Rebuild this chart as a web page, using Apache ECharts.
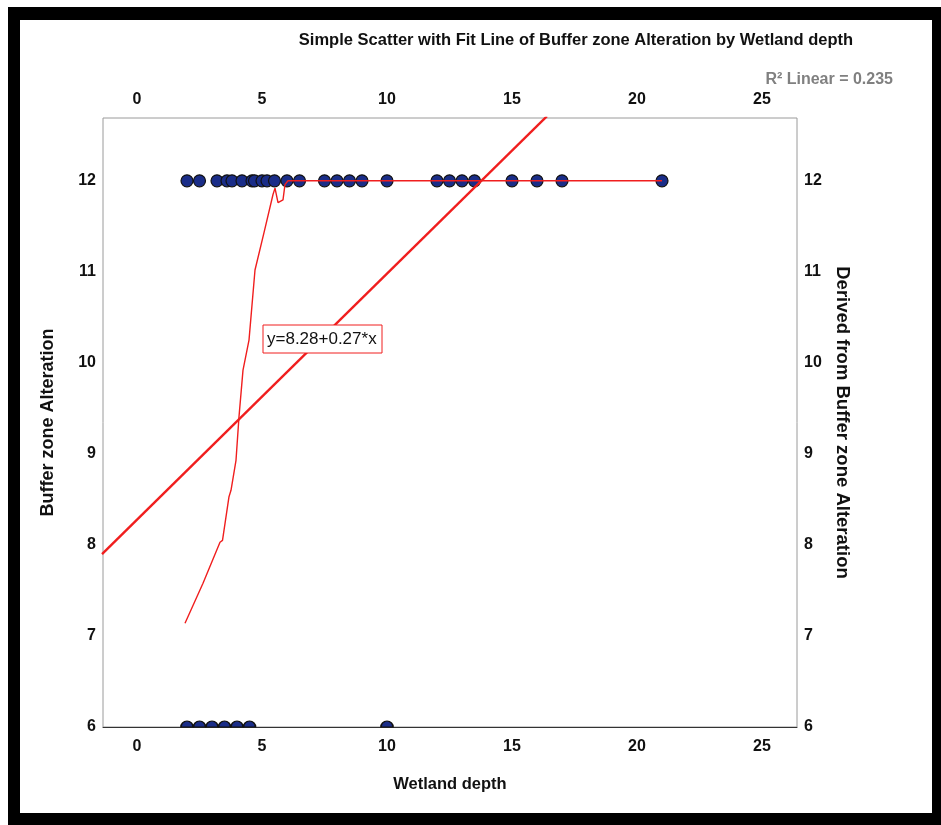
<!DOCTYPE html>
<html>
<head>
<meta charset="utf-8">
<title>Buffer zone Alteration by Wetland depth</title>
<script src="https://cdn.jsdelivr.net/npm/echarts@6/dist/echarts.min.js"></script>
<style>
  html, body { margin: 0; padding: 0; background: #fff; }
  #chart { width: 941px; height: 825px; }
</style>
</head>
<body>
<div id="chart"></div>
<script>
// observed points, wetland depth for each alteration level
const depthAt12 = [2.0, 2.5, 3.2, 3.6, 3.8, 4.2, 4.6, 4.7, 5.0, 5.2, 5.5, 6.0, 6.5, 7.5, 8.0, 8.5, 9.0, 10, 12, 12.5, 13, 13.5, 15, 16, 17, 21]
const depthAt6 = [2.0, 2.5, 3.0, 3.5, 4.0, 4.5, 10]

// smoothed curve
const curveX = [1.92, 2.64, 3.32, 3.42, 3.68, 3.76, 3.96, 4.08, 4.24, 4.48, 4.72, 5.08, 5.44, 5.52, 5.64, 5.84, 5.92, 6.04, 21]
const curveY = [7.14, 7.58, 8.03, 8.05, 8.53, 8.60, 8.93, 9.41, 9.92, 10.25, 11.02, 11.43, 11.85, 11.92, 11.76, 11.79, 11.96, 12.0, 12.0]

// fit line end points
const fitX = [-1.4, 16.4]
const fitY = [7.9, 12.71]

const xTicks = [0, 5, 10, 15, 20, 25]
const yTicks = [6, 7, 8, 9, 10, 11, 12]

const chart = echarts.init(document.getElementById('chart'))

const font = '"Liberation Sans", Arial, sans-serif'
const red = '#f01e1e'
const dot = {
  color: '#1a2d88',
  borderColor: '#111',
  borderWidth: 1.2,
  opacity: 1
}

const tickLabel = {
  color: '#111',
  fontWeight: 'bold',
  fontSize: 16,
  fontFamily: font
}

const xAxisBase = {
  type: 'value',
  min: -1.36,
  max: 26.4,
  splitLine: { show: false },
  axisTick: { show: false },
  axisLabel: { ...tickLabel, customValues: xTicks }
}

const yAxisBase = {
  type: 'value',
  min: 6,
  max: 12.69,
  splitLine: { show: false },
  axisTick: { show: false },
  axisLine: { show: false },
  nameLocation: 'middle',
  nameTextStyle: {
    color: '#111',
    fontWeight: 'bold',
    fontSize: 18,
    fontFamily: font
  },
  axisLabel: { ...tickLabel, customValues: yTicks, margin: 7 }
}

const option = {
  animation: false,
  backgroundColor: '#fff',
  title: {
    text: 'Simple Scatter with Fit Line of Buffer zone Alteration by Wetland depth',
    left: 571,
    top: 27,
    textAlign: 'center',
    textStyle: {
      color: '#111',
      fontWeight: 'bold',
      fontSize: 16.5,
      fontFamily: font
    }
  },
  grid: {
    left: 103,
    right: 144,
    top: 118,
    bottom: 98,
    show: true,
    borderColor: '#9a9a9a',
    borderWidth: 1,
    containLabel: false,
    outerBoundsMode: 'none'
  },
  xAxis: [
    {
      ...xAxisBase,
      position: 'bottom',
      axisLine: { show: true, onZero: false, lineStyle: { color: '#333', width: 1 } },
      axisLabel: { ...xAxisBase.axisLabel, margin: 12 },
      name: 'Wetland depth',
      nameLocation: 'middle',
      nameGap: 49,
      nameTextStyle: {
        color: '#111',
        fontWeight: 'bold',
        fontSize: 16.5,
        fontFamily: font
      }
    },
    {
      ...xAxisBase,
      position: 'top',
      axisLine: { show: false },
      axisLabel: { ...xAxisBase.axisLabel, margin: 10 }
    }
  ],
  yAxis: [
    {
      ...yAxisBase,
      position: 'left',
      name: 'Buffer zone Alteration',
      nameGap: 46
    },
    {
      ...yAxisBase,
      position: 'right',
      name: 'Derived from Buffer zone Alteration',
      nameGap: 31,
      nameRotate: -90,
      nameTextStyle: { ...yAxisBase.nameTextStyle, fontSize: 18.5 }
    }
  ],
  series: [
    {
      type: 'scatter',
      symbol: 'circle',
      symbolSize: 12,
      itemStyle: dot,
      data: depthAt12.map(x => [x, 12]),
      z: 2
    },
    {
      type: 'scatter',
      // lower half is cut off by the axis in the original
      symbol: 'path://M0,10 A10,10 0 0 1 20,10 Z',
      symbolSize: [12, 6],
      symbolOffset: [0, -3],
      itemStyle: dot,
      data: depthAt6.map(x => [x, 6]),
      z: 2
    },
    {
      type: 'line',
      data: curveX.map((x, i) => [x, curveY[i]]),
      showSymbol: false,
      symbol: 'none',
      lineStyle: { color: red, width: 1.4 },
      z: 3
    },
    {
      type: 'line',
      data: fitX.map((x, i) => [x, fitY[i]]),
      showSymbol: false,
      symbol: 'none',
      clip: true,
      lineStyle: { color: red, width: 2.4 },
      z: 3
    }
  ],
  graphic: [
    // picture frame
    { type: 'rect', z: -10, shape: { x: 8, y: 7, width: 933, height: 818 }, style: { fill: '#000' } },
    { type: 'rect', z: -9, shape: { x: 20, y: 20, width: 912, height: 793 }, style: { fill: '#fff' } },
    {
      type: 'text',
      z: 100,
      x: 893,
      y: 80,
      style: {
        text: 'R² Linear = 0.235',
        fill: '#808080',
        font: 'bold 16px ' + font,
        align: 'right',
        verticalAlign: 'middle'
      }
    },
    {
      type: 'rect',
      z: 100,
      shape: { x: 263, y: 325, width: 119, height: 28 },
      style: { fill: '#fff', stroke: red, lineWidth: 1 }
    },
    {
      type: 'text',
      z: 101,
      x: 267,
      y: 339,
      style: {
        text: 'y=8.28+0.27*x',
        fill: '#111',
        font: '17px ' + font,
        verticalAlign: 'middle'
      }
    }
  ]
}

chart.setOption(option)
</script>
</body>
</html>
